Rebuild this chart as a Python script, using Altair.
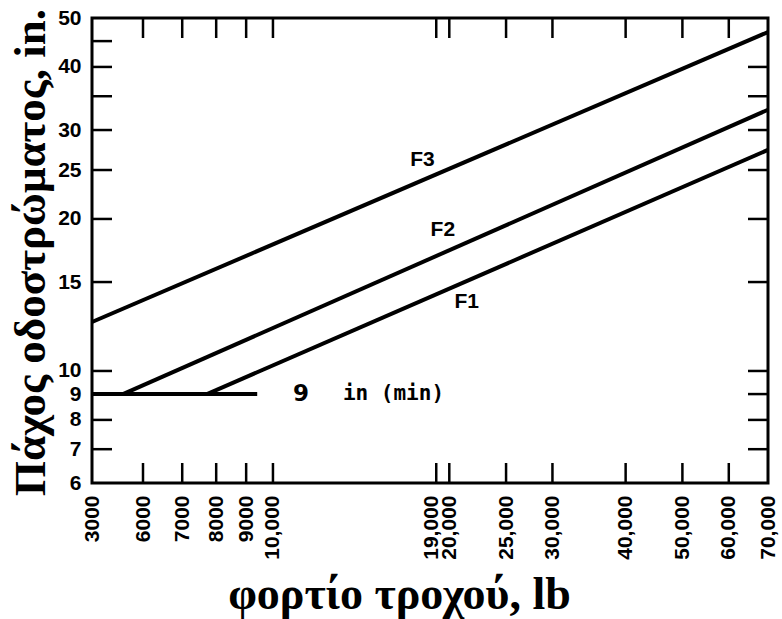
import altair as alt
import pandas as pd

# ---- data ----
series_names = ["F3", "F2", "F1", "min"]
line_load = [[3000, 70000], [4570, 70000], [7716, 70000], [3000, 9400]]
line_thick = [[12.5, 46.9], [9, 32.9], [9, 27.4], [9, 9]]

label_text = ["F3", "F2", "F1"]
label_load = [18000, 19500, 21420]
label_thick = [26.2, 19.0, 13.7]

min_text = ["9", "in (min)"]
min_load = [10820, 13164]
min_thick = [9, 9]

x_tick_labels = [3000, 6000, 7000, 8000, 9000, 10000, 19000, 20000,
                 25000, 30000, 40000, 50000, 60000, 70000]
x_tick_marks = [6000, 7000, 8000, 9000, 10000, 19000, 20000,
                25000, 30000, 40000, 50000, 60000]
y_tick_labels = [6, 7, 8, 9, 10, 15, 20, 25, 30, 40, 50]
y_left_marks = [7, 8, 9, 10, 15, 20, 25, 30, 35, 40, 45]
y_right_marks = [7, 8, 9, 10, 15, 20, 25, 30, 35, 40]

W, H = 676, 465
TICK = 20

rows = []
for name, xs, ys in zip(series_names, line_load, line_thick):
    for i, (a, b) in enumerate(zip(xs, ys)):
        rows.append({"series": name, "order": i, "load": a, "thickness": b})
lines_df = pd.DataFrame(rows)
labels_df = pd.DataFrame({"text": label_text, "load": label_load, "thickness": label_thick})
min_df = pd.DataFrame({"text": min_text, "load": min_load, "thickness": min_thick})
xt_df = pd.DataFrame({"load": x_tick_marks})
yl_df = pd.DataFrame({"thickness": y_left_marks})
yr_df = pd.DataFrame({"thickness": y_right_marks})

xscale = alt.Scale(type="log", domain=[3000, 6000, 70000], range=[0, 51, W], nice=False, zero=False)
yscale = alt.Scale(type="log", domain=[6, 50], nice=False, zero=False)

x_axis = alt.Axis(
    values=x_tick_labels,
    labelExpr="datum.value < 10000 ? format(datum.value, 'd') : format(datum.value, ',')",
    labelAngle=-90, labelOverlap=False, labelPadding=12,
    labelOffset={"condition": {"test": "datum.value == 19000", "value": -5}, "value": 0},
    title="φορτίο τροχού, lb", titleX=307, titleY=125,
    titleBaseline="alphabetic", titleAlign="center",
    titleFont="Liberation Serif", titleFontSize=46, titleFontWeight="bold",
)
y_axis = alt.Axis(
    values=y_tick_labels, labelOverlap=False, labelPadding=11,
    title="Πάχος οδοστρώματος, in.", titleX=-48, titleY=234, titleAngle=-90,
    titleBaseline="alphabetic", titleAlign="center",
    titleFont="Liberation Serif", titleFontSize=45, titleFontWeight="bold",
)

X = alt.X("load:Q", scale=xscale, axis=x_axis)
Y = alt.Y("thickness:Q", scale=yscale, axis=y_axis)

lines = alt.Chart(lines_df).mark_line(color="black", strokeWidth=4).encode(
    x=X, y=Y, detail="series:N", order="order:Q",
)

labels = alt.Chart(labels_df).mark_text(
    font="Liberation Sans", fontWeight="bold", fontSize=21, color="black"
).encode(x=X, y=Y, text="text:N")

min_nine = alt.Chart(min_df.iloc[[0]]).mark_text(
    font="DejaVu Sans", fontWeight="bold", fontSize=23, color="black", align="left"
).encode(x=X, y=Y, text="text:N")
min_word = alt.Chart(min_df.iloc[[1]]).mark_text(
    font="DejaVu Sans Mono", fontWeight="bold", fontSize=21, color="black", align="left"
).encode(x=X, y=Y, text="text:N")

tick_style = dict(color="black", strokeWidth=2.5)
bottom_ticks = alt.Chart(xt_df).mark_rule(**tick_style).encode(
    x=X, y=alt.value(H), y2=alt.value(H - TICK),
)
top_ticks = alt.Chart(xt_df).mark_rule(**tick_style).encode(
    x=X, y=alt.value(0), y2=alt.value(TICK),
)
left_ticks = alt.Chart(yl_df).mark_rule(**tick_style).encode(
    y=Y, x=alt.value(0), x2=alt.value(TICK),
)
right_ticks = alt.Chart(yr_df).mark_rule(**tick_style).encode(
    y=Y, x=alt.value(W), x2=alt.value(W - TICK),
)

chart = alt.layer(
    lines, bottom_ticks, top_ticks, left_ticks, right_ticks, labels, min_nine, min_word
).properties(
    width=W, height=H,
    autosize=alt.AutoSizeParams(type="none"),
    padding={"left": 92, "top": 18, "right": 14, "bottom": 136},
    background="white",
).configure_view(
    stroke="black", strokeWidth=3
).configure_axis(
    grid=False, ticks=False, domain=False,
    labelFont="Liberation Sans", labelFontWeight="bold", labelFontSize=21,
    labelColor="black", titleColor="black",
)

chart.save("out.html", embed_options={"renderer": "svg", "actions": False})
